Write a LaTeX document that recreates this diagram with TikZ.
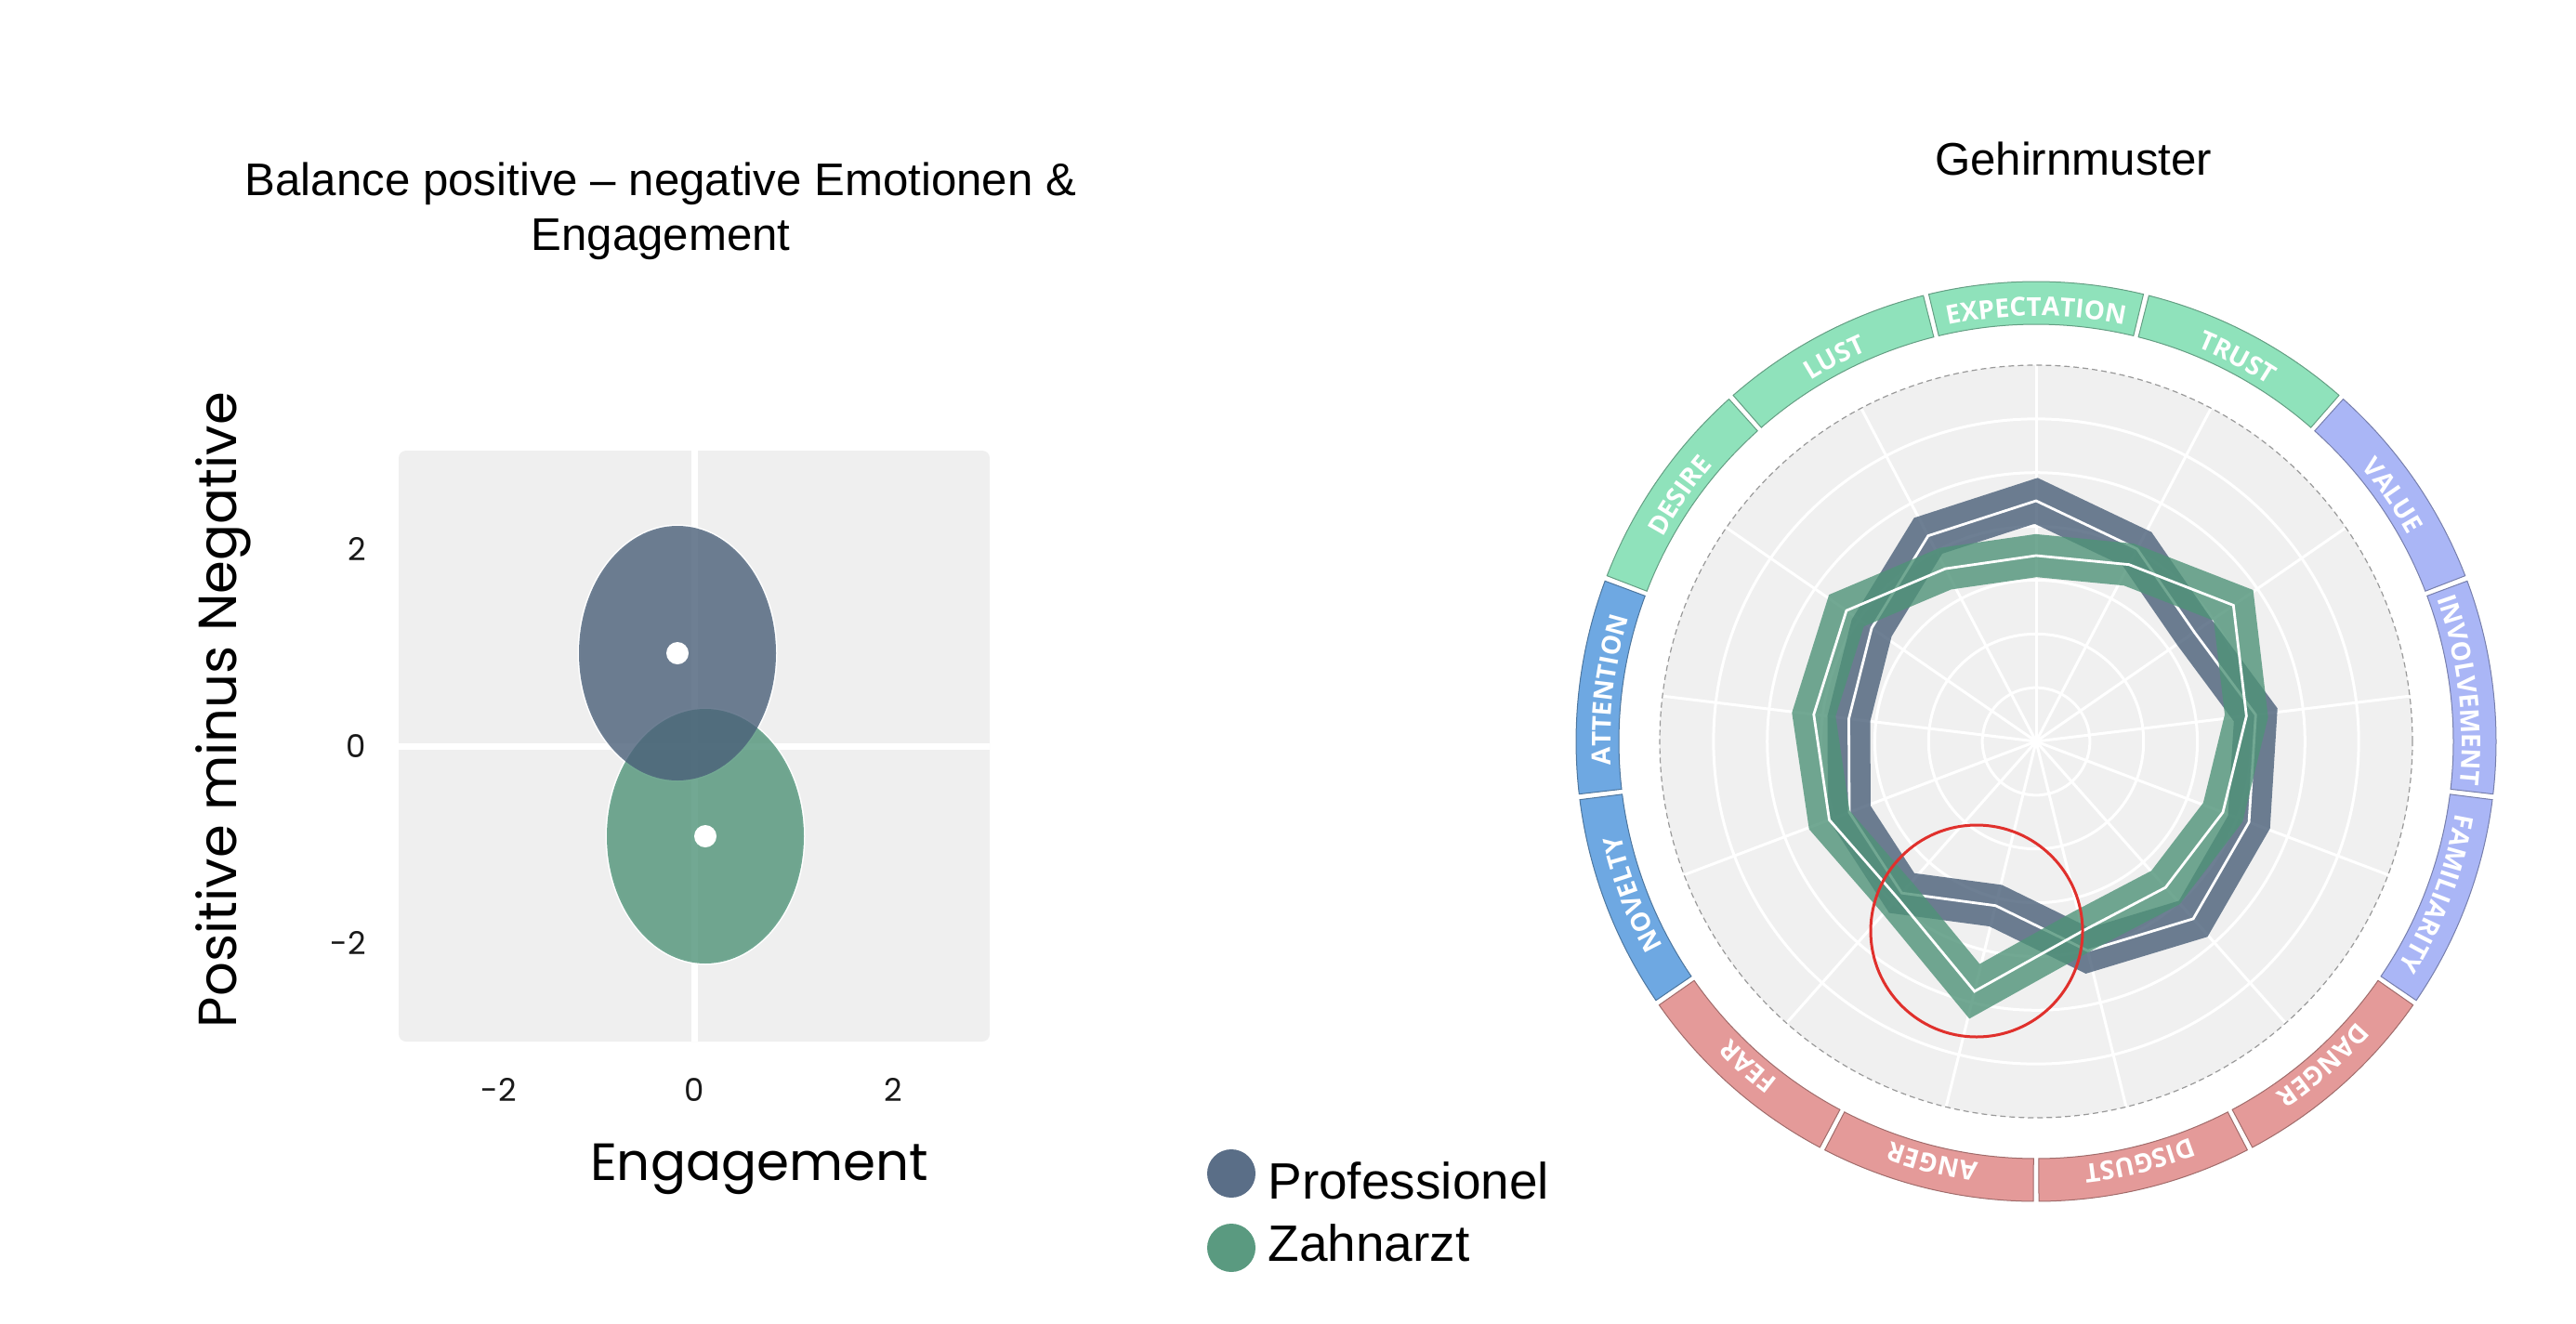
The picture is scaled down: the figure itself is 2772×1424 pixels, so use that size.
\documentclass[tikz,border=0pt]{standalone}
\usepackage{graphicx}
\usepackage{fontspec}
\setmainfont{Liberation Sans}
\newfontfamily\axisfont{Poppins}
\newfontfamily\tickfont{Poppins}
\newfontfamily\ringfont{Open Sans}
\usetikzlibrary{decorations.text}
\definecolor{profcol}{HTML}{4A6079}
\definecolor{zahncol}{HTML}{4F9378}
\definecolor{plotbg}{HTML}{EFEFEF}
\definecolor{radarbg}{HTML}{F0F0F0}
\definecolor{segG}{HTML}{8FE2BB}
\definecolor{segP}{HTML}{AAB6F6}
\definecolor{segB}{HTML}{6EA8E2}
\definecolor{segR}{HTML}{E49A99}
\definecolor{legprof}{HTML}{5A6E87}
\definecolor{legzahn}{HTML}{5A9A80}
\definecolor{redring}{HTML}{E0302C}

\newcommand\ringseg[3]{%
  \pgfmathsetmacro\rsMid{90-#1*360/13}%
  \pgfmathsetmacro\rsA{\rsMid+13.846-0.35}%
  \pgfmathsetmacro\rsB{\rsMid-13.846+0.35}%
  \filldraw[fill=#2, draw=#2!70!black, line width=0.5pt]
    (\rsA:495) arc[start angle=\rsA, end angle=\rsB, radius=495]
    -- (\rsB:449) arc[start angle=\rsB, end angle=\rsA, radius=449] -- cycle;
  \pgfmathsetmacro\rsTa{\rsMid+13.846}%
  \pgfmathsetmacro\rsTb{\rsMid-13.846}%
  \path[decorate, decoration={text along path, text align=center,
      text={|\ringfont\bfseries\fontsize{14}{16}\selectfont\color{white}|#3}}]
    (\rsTa:458) arc[start angle=\rsTa, end angle=\rsTb, radius=458];
}

\begin{document}
\begin{tikzpicture}[x=0.5pt, y=0.5pt,
  titletext/.style={font=\fontsize{24.6}{29}\selectfont, inner sep=0pt},
  ticktext/.style={font=\tickfont\fontsize{17}{20}\selectfont, text=black!90, inner sep=0pt},
  legtext/.style={font=\fontsize{27.5}{33}\selectfont, inner sep=0pt},
  legdot/.style={circle, inner sep=0pt, minimum size=26pt},
  axisline/.style={white, line width=3.5pt},
  gridline/.style={white, line width=1.5pt},
  band/.style={line width=23pt, line join=miter, draw opacity=0.8},
  meanline/.style={white, line width=1.4pt, line join=miter}
]
\useasboundingbox (0,0) rectangle (2772,-1424);

% titles
\node[titletext, anchor=base] (t1) at (711,-210) {Balance positive – negative Emotionen \&};
\node[titletext, anchor=base] (t2) at (711,-269) {Engagement};
\node[titletext, anchor=base] (t3) at (2231,-188) {Gehirnmuster};

% left plot
\fill[plotbg, rounded corners=4pt] (429,-485) rectangle (1065,-1121);
\draw[axisline] (747,-485) -- (747,-1121);
\draw[axisline] (429,-803) -- (1065,-803);
\draw[white, line width=1.5pt] (759,-900) ellipse [x radius=106, y radius=137];
\draw[white, line width=1.5pt] (729,-703) ellipse [x radius=106, y radius=137];
\fill[zahncol, fill opacity=0.8] (759,-900) ellipse [x radius=106, y radius=137];
\fill[profcol, fill opacity=0.8] (729,-703) ellipse [x radius=106, y radius=137];
\fill[white] (729,-703) circle (12);
\fill[white] (759,-900) circle (12);

\node[ticktext, anchor=east] (y2) at (394,-591) {2};
\node[ticktext, anchor=east] (y0) at (394,-803) {0};
\node[ticktext, anchor=east] (ym2) at (394,-1015) {-2};
\node[ticktext] (xm2) at (537,-1173) {-2};
\node[ticktext] (x0) at (747,-1173) {0};
\node[ticktext] (x2) at (961,-1173) {2};
\node[inner sep=0pt] (xl) at (817,-1258) {\resizebox{182pt}{!}{\axisfont Engagement}};
\node[inner sep=0pt, rotate=90] (yl) at (240,-764) {\resizebox{342pt}{!}{\axisfont Positive minus Negative}};

% legend
\node[legdot, fill=legprof] (d1) at (1325,-1263) {};
\node[legdot, fill=legzahn] (d2) at (1325,-1343) {};
\node[legtext, anchor=base west] (l1) at (1364,-1290) {Professionel};
\node[legtext, anchor=base west] (l2) at (1364,-1357) {Zahnarzt};

% radar chart
\begin{scope}[shift={(2191,-798)}]
  \ringseg{0}{segG}{EXPECTATION}
  \ringseg{1}{segG}{TRUST}
  \ringseg{2}{segP}{VALUE}
  \ringseg{3}{segP}{INVOLVEMENT}
  \ringseg{4}{segP}{FAMILIARITY}
  \ringseg{5}{segR}{DANGER}
  \ringseg{6}{segR}{DISGUST}
  \ringseg{7}{segR}{ANGER}
  \ringseg{8}{segR}{FEAR}
  \ringseg{9}{segB}{NOVELTY}
  \ringseg{10}{segB}{ATTENTION}
  \ringseg{11}{segG}{DESIRE}
  \ringseg{12}{segG}{LUST}

  \fill[radarbg] (0,0) circle (405);
  \foreach \k in {1,...,6} \draw[gridline] (0,0) circle ({405*\k/7});
  \foreach \k in {0,...,12} \draw[gridline] (0,0) -- ({90-\k*360/13}:405);
  \draw[black!40, line width=0.6pt, dash pattern=on 3pt off 2pt] (0,0) circle (405);

  % Professionel
  \draw[band, profcol] (90:259) -- (62.308:234) -- (34.615:207) -- (6.923:238) -- (-20.769:245) -- (-48.462:255) -- (-76.154:232) -- (-103.846:182) -- (-131.538:218) -- (-159.231:215) -- (173.077:203) -- (145.385:215) -- (117.692:250) -- cycle;
  \draw[meanline] (90:259) -- (62.308:234) -- (34.615:207) -- (6.923:238) -- (-20.769:245) -- (-48.462:255) -- (-76.154:232) -- (-103.846:182) -- (-131.538:218) -- (-159.231:215) -- (173.077:203) -- (145.385:215) -- (117.692:250) -- cycle;
  % Zahnarzt
  \draw[band, zahncol] (90:200) -- (62.308:215) -- (34.615:258) -- (6.923:228) -- (-20.769:215) -- (-48.462:210) -- (-76.154:210) -- (-103.846:277) -- (-131.538:225) -- (-159.231:238) -- (173.077:241) -- (145.385:248) -- (117.692:210) -- cycle;
  \draw[meanline] (90:200) -- (62.308:215) -- (34.615:258) -- (6.923:228) -- (-20.769:215) -- (-48.462:210) -- (-76.154:210) -- (-103.846:277) -- (-131.538:225) -- (-159.231:238) -- (173.077:241) -- (145.385:248) -- (117.692:210) -- cycle;

  \draw[redring, line width=1.5pt] (-64,-204) circle (114);
\end{scope}
\end{tikzpicture}
\end{document}
